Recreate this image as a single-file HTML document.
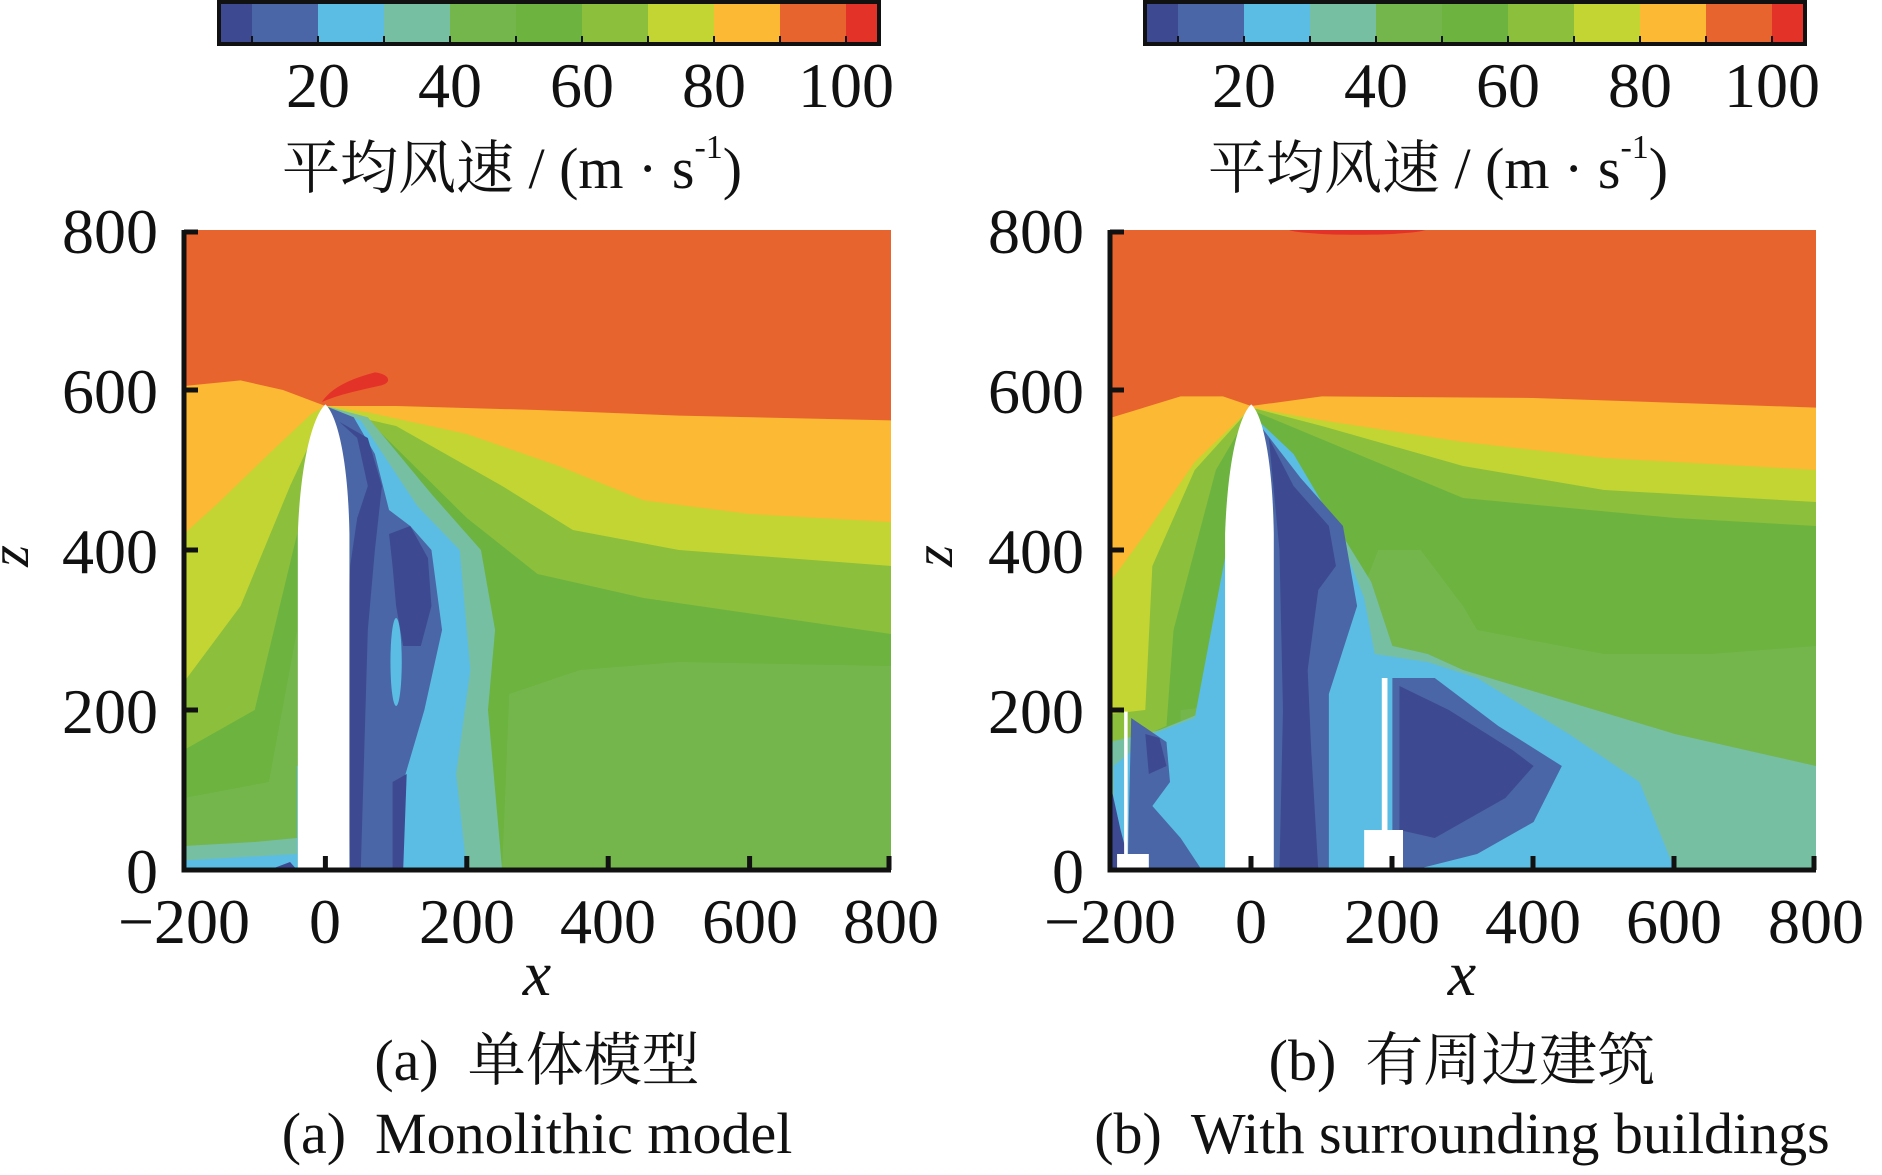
<!DOCTYPE html>
<html><head><meta charset="utf-8"><style>
html,body{margin:0;padding:0;background:#fff;}
svg{display:block;}
text{font-family:"Liberation Serif","Noto Serif CJK SC","Noto Sans CJK SC",serif;fill:#111;}
</style></head><body>
<svg width="1882" height="1175" viewBox="0 0 1882 1175" xmlns="http://www.w3.org/2000/svg">
<defs>
<clipPath id="cl"><rect x="-200" y="0" width="1000" height="800"/></clipPath>
</defs>

<!-- Colorbars -->
<g id="cb1">
<rect x="219" y="2" width="33" height="42" fill="#3d4a91"/>
<rect x="252" y="2" width="66" height="42" fill="#4a66a6"/>
<rect x="318" y="2" width="66" height="42" fill="#5bbde4"/>
<rect x="384" y="2" width="66" height="42" fill="#76bfa3"/>
<rect x="450" y="2" width="66" height="42" fill="#74b64c"/>
<rect x="516" y="2" width="66" height="42" fill="#6db33f"/>
<rect x="582" y="2" width="66" height="42" fill="#8cbf3c"/>
<rect x="648" y="2" width="66" height="42" fill="#c2d533"/>
<rect x="714" y="2" width="66" height="42" fill="#fbb934"/>
<rect x="780" y="2" width="66" height="42" fill="#e8642e"/>
<rect x="846" y="2" width="33" height="42" fill="#e33328"/>
<g stroke="#111" stroke-width="2"><line x1="252" y1="36" x2="252" y2="44"/><line x1="318" y1="36" x2="318" y2="44"/><line x1="384" y1="36" x2="384" y2="44"/><line x1="450" y1="36" x2="450" y2="44"/><line x1="516" y1="36" x2="516" y2="44"/><line x1="582" y1="36" x2="582" y2="44"/><line x1="648" y1="36" x2="648" y2="44"/><line x1="714" y1="36" x2="714" y2="44"/><line x1="780" y1="36" x2="780" y2="44"/><line x1="846" y1="36" x2="846" y2="44"/></g>
<rect x="219" y="2" width="660" height="42" fill="none" stroke="#111" stroke-width="4"/>
<g font-size="64" text-anchor="middle"><text x="318" y="107">20</text><text x="450" y="107">40</text><text x="582" y="107">60</text><text x="714" y="107">80</text><text x="846" y="107">100</text></g>
<text x="282" y="188" font-size="58">平均风速 / (m · s<tspan font-size="34" dy="-30">-1</tspan><tspan dy="30">)</tspan></text>
</g>
<use href="#cb1" transform="translate(926,0)"/>

<!-- Left plot -->
<g transform="translate(325.4,870) scale(0.707,-0.8)">
<g clip-path="url(#cl)">
<rect x="-200" y="0" width="1000" height="800" fill="#e8642e"/>
<polygon fill="#fbb934" points="-200,0 -200,605 -120,612 -60,600 0,580 100,580 300,575 500,568 800,562 800,0"/>
<polygon fill="#c2d533" points="-200,0 -200,420 -150,460 -80,520 -20,570 0,580 60,572 200,545 330,505 450,462 600,445 800,435 800,0"/>
<polygon fill="#8cbf3c" points="-200,0 -200,235 -120,330 -50,480 0,575 100,555 250,480 350,425 500,400 800,380 800,0"/>
<polygon fill="#6db33f" points="-200,0 -200,150 -100,200 -40,420 0,570 80,545 200,440 300,370 450,340 800,295 800,0"/>
<polygon fill="#74b64c" points="250,0 260,220 360,250 500,260 800,255 800,0"/>
<polygon fill="#74b64c" points="-200,0 -200,90 -80,110 -40,300 -30,0"/>
<polygon fill="#76bfa3" points="0,580 60,566 150,470 220,400 240,300 230,200 250,0 30,0"/>
<polygon fill="#76bfa3" points="-200,0 -200,30 -100,35 -40,40 -40,0"/>
<polygon fill="#5bbde4" points="0,580 50,562 130,455 190,400 205,250 185,120 200,0 30,0"/>
<polygon fill="#5bbde4" points="-200,0 -200,12 -80,18 -40,20 -40,0"/>
<polygon fill="#5bbde4" points="-40,0 -40,130 -20,140 -20,0"/>
<polygon fill="#4a66a6" points="0,580 40,566 70,520 90,450 120,430 150,400 165,300 140,200 110,110 105,0 30,0"/>
<polygon fill="#3d4a91" points="20,560 45,540 60,480 45,440 35,380 30,250 35,0 50,0 60,300 70,400 80,480 60,540"/>
<polygon fill="#3d4a91" points="90,420 120,430 145,390 150,330 135,280 110,280 100,330 95,380"/>
<polygon fill="#3d4a91" points="95,0 95,110 115,120 110,0"/>
<polygon fill="#3d4a91" points="-80,0 -50,10 -40,0"/>
<ellipse cx="100" cy="260" rx="8" ry="55" fill="#5bbde4"/>
<path fill="#e33328" d="M-5,585 C10,605 40,615 70,622 C90,620 95,610 80,606 C50,600 20,595 -5,585 Z"/>
<path fill="#fff" d="M-39,0 L-39,420 C-35,520 -15,570 0,582 C15,570 32,520 34,420 L34,0 Z"/>
</g>
</g>

<!-- Right plot -->
<g transform="translate(1251.2,870) scale(0.706,-0.8)">
<g clip-path="url(#cl)">
<rect x="-200" y="0" width="1000" height="800" fill="#e8642e"/>
<ellipse cx="150" cy="802" rx="100" ry="8" fill="#e33328"/>
<polygon fill="#fbb934" points="-200,0 -200,565 -100,592 -40,592 0,580 100,592 400,590 800,578 800,0"/>
<polygon fill="#c2d533" points="-200,0 -200,360 -150,420 -80,510 0,578 100,562 300,535 500,515 800,500 800,0"/>
<polygon fill="#8cbf3c" points="-200,0 -200,195 -150,200 -140,380 -80,500 0,578 100,555 300,505 500,475 800,460 800,0"/>
<polygon fill="#6db33f" points="-200,0 -200,150 -120,180 -110,300 -50,500 0,575 150,520 300,465 600,440 800,430 800,0"/>
<polygon fill="#74b64c" points="-100,0 -100,200 100,220 180,400 240,400 300,330 320,300 500,270 650,270 800,280 800,0"/>
<polygon fill="#76bfa3" points="-200,0 -200,160 -130,175 -60,200 -30,420 0,570 100,460 170,360 200,280 250,270 300,250 450,210 600,170 800,130 800,0"/>
<polygon fill="#5bbde4" points="-195,0 -195,130 -140,170 -80,190 -35,400 0,570 60,520 120,430 160,340 175,270 250,260 320,240 450,170 550,110 600,0"/>
<polygon fill="#4a66a6" points="0,570 70,490 130,430 150,330 110,220 110,0 20,0"/>
<polygon fill="#4a66a6" points="200,240 260,240 350,180 440,130 400,60 320,20 230,0 200,0"/>
<polygon fill="#4a66a6" points="-170,190 -120,160 -115,110 -140,80 -100,40 -70,0 -175,0"/>
<polygon fill="#3d4a91" points="25,540 60,480 110,430 120,380 95,350 80,250 85,150 95,0 40,0 45,200 40,400"/>
<polygon fill="#3d4a91" points="210,230 280,200 370,150 400,130 360,90 260,40 210,50"/>
<polygon fill="#3d4a91" points="-200,0 -200,110 -185,50 -170,0"/>
<polygon fill="#3d4a91" points="-150,170 -130,165 -120,130 -145,120"/>
<path fill="#fff" d="M-37,0 L-37,420 C-33,520 -15,570 0,582 C15,570 30,520 32,420 L32,0 Z"/>
<rect x="-180" y="0" width="5" height="198" fill="#fff"/>
<rect x="-190" y="0" width="45" height="20" fill="#fff"/>
<rect x="185" y="0" width="8" height="240" fill="#fff"/>
<rect x="160" y="0" width="55" height="50" fill="#fff"/>
</g>
</g>

<!-- Axes -->
<g stroke="#111" stroke-width="5" fill="none">
<path d="M184,230 L184,870 L891,870"/>
<line x1="184" y1="232" x2="198" y2="232"/><line x1="184" y1="390" x2="198" y2="390"/><line x1="184" y1="550" x2="198" y2="550"/><line x1="184" y1="710" x2="198" y2="710"/>
<line x1="325.4" y1="870" x2="325.4" y2="856"/><line x1="466.8" y1="870" x2="466.8" y2="856"/><line x1="608.2" y1="870" x2="608.2" y2="856"/><line x1="749.6" y1="870" x2="749.6" y2="856"/><line x1="889" y1="870" x2="889" y2="856"/>
</g>
<g font-size="64" text-anchor="end">
<text x="158" y="253">800</text><text x="158" y="413">600</text><text x="158" y="573">400</text><text x="158" y="733">200</text><text x="158" y="893">0</text>
</g>
<g font-size="64" text-anchor="middle">
<text x="184" y="943">−200</text><text x="325" y="943">0</text><text x="467" y="943">200</text><text x="608" y="943">400</text><text x="750" y="943">600</text><text x="891" y="943">800</text>
<text x="537" y="995" font-style="italic">x</text>
</g>
<text x="28" y="556" font-size="56" font-style="italic" text-anchor="middle" transform="rotate(-90 28 556)">z</text>
<text x="537" y="1080" font-size="58" text-anchor="middle">(a)&#160;&#160;单体模型</text>
<text x="537" y="1153" font-size="58" text-anchor="middle">(a)&#160;&#160;Monolithic model</text>

<g stroke="#111" stroke-width="5" fill="none">
<path d="M1110,230 L1110,870 L1816,870"/>
<line x1="1110" y1="232" x2="1124" y2="232"/><line x1="1110" y1="390" x2="1124" y2="390"/><line x1="1110" y1="550" x2="1124" y2="550"/><line x1="1110" y1="710" x2="1124" y2="710"/>
<line x1="1251" y1="870" x2="1251" y2="856"/><line x1="1392" y1="870" x2="1392" y2="856"/><line x1="1533" y1="870" x2="1533" y2="856"/><line x1="1674" y1="870" x2="1674" y2="856"/><line x1="1814" y1="870" x2="1814" y2="856"/>
</g>
<g font-size="64" text-anchor="end">
<text x="1084" y="253">800</text><text x="1084" y="413">600</text><text x="1084" y="573">400</text><text x="1084" y="733">200</text><text x="1084" y="893">0</text>
</g>
<g font-size="64" text-anchor="middle">
<text x="1110" y="943">−200</text><text x="1251" y="943">0</text><text x="1392" y="943">200</text><text x="1533" y="943">400</text><text x="1674" y="943">600</text><text x="1816" y="943">800</text>
<text x="1462" y="995" font-style="italic">x</text>
</g>
<text x="952" y="556" font-size="56" font-style="italic" text-anchor="middle" transform="rotate(-90 952 556)">z</text>
<text x="1462" y="1080" font-size="58" text-anchor="middle">(b)&#160;&#160;有周边建筑</text>
<text x="1462" y="1153" font-size="58" text-anchor="middle">(b)&#160;&#160;With surrounding buildings</text>
</svg>
</body></html>
